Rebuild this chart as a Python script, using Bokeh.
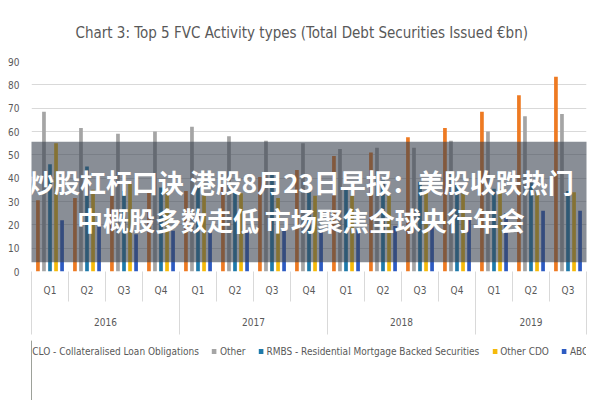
from bokeh.plotting import figure
from bokeh.layouts import column
from bokeh.models import (Range1d, LinearAxis, FixedTicker, Legend, LegendItem,
                          ColumnDataSource, BoxAnnotation, Label)
from bokeh.transform import dodge
from bokeh.embed import file_html
from bokeh.resources import INLINE

# ---------------- data ----------------
years = ["2016", "2017", "2018", "2019"]
quarters_per_year = [4, 4, 4, 3]
quarters = ["Q1", "Q2", "Q3", "Q4",
            "Q1", "Q2", "Q3", "Q4",
            "Q1", "Q2", "Q3", "Q4",
            "Q1", "Q2", "Q3"]

clo = [30.5, 31.5, 32.5, 34, 34.5, 37, 40.5, 43.5, 49.5, 51, 57.5, 61.5, 68.5, 75.5, 83.5]
other = [68.5, 61.5, 59, 60, 62, 58, 56, 55, 52.5, 53, 53, 56, 60, 66.5, 67.5]
rmbs = [46, 45, 34.5, 36, 36.5, 34.5, 42, 34.5, 36, 39, 38.5, 37.5, 35.5, 38, 34.5]
other_cdo = [55, 35, 37.5, 34.5, 33.5, 33.5, 31.5, 32.5, 32.5, 32.5, 34.5, 34, 35.5, 34.5, 34]
abcp = [22, 19.5, 16, 17.5, 16.5, 17.5, 17.5, 18, 18, 19.5, 19, 23, 25, 26, 26]

series_names = ["CLO - Collateralised Loan Obligations", "Other",
                "RMBS - Residential Mortgage Backed Securities", "Other CDO", "ABCP"]
series_values = [clo, other, rmbs, other_cdo, abcp]
colors = ["#EE7A22", "#A5A5A5", "#1F7AAA", "#F5BA0A", "#2D5BC2"]

title_text = "Chart 3: Top 5 FVC Activity types (Total Debt Securities Issued \u20acbn)"
banner_lines = ["炒股杠杆口诀 港股8月23日早报：美股收跌热门",
                "中概股多数走低 市场聚焦全球央行年会"]

# ---------------- chart ----------------
FONT = "'Liberation Sans Narrow', 'DejaVu Sans Condensed', 'Open Sans', sans-serif"
GREY = "#595959"
LIGHT = "#D9D9D9"

n = len(quarters)
xc = [i + 0.5 for i in range(n)]
data = {"x": xc}
keys = ["s%d" % i for i in range(len(series_values))]
for k, v in zip(keys, series_values):
    data[k] = v
source = ColumnDataSource(data)

p = figure(width=600, height=340, x_range=Range1d(0, n), y_range=Range1d(0, 90),
           output_backend="svg", toolbar_location=None, x_axis_location=None,
           min_border_left=31, min_border_right=14, min_border_top=61,
           min_border_bottom=69)
p.outline_line_color = None
p.background_fill_color = "white"
p.border_fill_color = "white"

# title
p.title.text = title_text
p.title.align = "left"
p.title.offset = 44
p.title.text_font = FONT
p.title.text_font_size = "15px"
p.title.text_font_style = "normal"
p.title.text_color = GREY
p.title.standoff = 39

# bars
step = 0.163
bw = 0.1
renderers = []
for j, (k, c) in enumerate(zip(keys, colors)):
    off = (j - 2) * step
    r = p.vbar(x=dodge("x", off, range=p.x_range), top=k, width=bw, bottom=0,
               source=source, fill_color=c, line_color=None)
    renderers.append(r)

# y axis and grid
yt = FixedTicker(ticks=list(range(0, 100, 10)))
p.yaxis.ticker = yt
p.yaxis.axis_line_color = None
p.yaxis.major_tick_line_color = None
p.yaxis.minor_tick_line_color = None
p.yaxis.major_label_text_font = FONT
p.yaxis.major_label_text_font_size = "10px"
p.yaxis.major_label_text_color = GREY
p.yaxis.major_label_standoff = 6
p.ygrid.ticker = yt
p.ygrid.grid_line_color = LIGHT
p.xgrid.grid_line_color = None

# quarter axis
q_over = {x: q for x, q in zip(xc, quarters)}
qax = LinearAxis(ticker=FixedTicker(ticks=xc, minor_ticks=list(range(0, n + 1))),
                 major_label_overrides=q_over,
                 axis_line_color=None, major_tick_line_color=None,
                 major_tick_in=0, major_tick_out=0,
                 minor_tick_line_color=LIGHT, minor_tick_in=0, minor_tick_out=30,
                 major_label_standoff=-17, major_label_text_font=FONT,
                 major_label_text_font_size="10px", major_label_text_color=GREY)
p.add_layout(qax, "below")

# year axis
ycent, ybounds = [], [0]
s = 0
for k in quarters_per_year:
    c = s + k / 2
    ycent.append(int(c) if c == int(c) else c)
    s += k
    ybounds.append(s)
y_over = {c: y for c, y in zip(ycent, years)}
yax = LinearAxis(ticker=FixedTicker(ticks=ycent, minor_ticks=ybounds),
                 major_label_overrides=y_over,
                 axis_line_color=None, major_tick_line_color=None,
                 major_tick_in=0, major_tick_out=0,
                 minor_tick_line_color=LIGHT, minor_tick_in=26, minor_tick_out=36,
                 major_label_standoff=-17, major_label_text_font=FONT,
                 major_label_text_font_size="10px", major_label_text_color=GREY)
p.add_layout(yax, "below")

# banner overlay across the chart
band = BoxAnnotation(left=-0.84, right=15.4, top=55.6, bottom=4.0,
                     fill_color="#3A4350", fill_alpha=0.6, line_color=None)
p.add_layout(band)
for txt, yy in zip(banner_lines, [38.4, 22.2]):
    lab = Label(x=7.28, y=yy, text=txt,
                text_align="center", text_baseline="middle",
                text_font="Noto Sans CJK SC", text_font_style="bold",
                text_font_size="26px", text_color="white")
    p.add_layout(lab)

# legend strip under the chart (swatch renderers sit outside the visible range)
pl = figure(width=600, height=60, x_range=Range1d(0, 1), y_range=Range1d(0, 1),
            output_backend="svg", toolbar_location=None,
            x_axis_location=None, y_axis_location=None,
            min_border=0, min_border_left=0, min_border_right=0,
            min_border_top=0, min_border_bottom=0)
pl.outline_line_color = None
pl.xgrid.grid_line_color = None
pl.ygrid.grid_line_color = None
leg_renderers = [pl.vbar(x=[-5], top=[1], bottom=[0], width=0.1,
                         fill_color=c, line_color=None) for c in colors]
items = [LegendItem(label=nm, renderers=[r]) for nm, r in zip(series_names, leg_renderers)]
legend = Legend(items=items, orientation="horizontal", location="top_center",
                label_text_font=FONT, label_text_font_size="10px",
                label_text_color=GREY, glyph_width=6, glyph_height=6,
                label_height=12, label_standoff=3, spacing=12,
                border_line_color=None, background_fill_alpha=0,
                padding=4, margin=5)
pl.add_layout(legend)

layout = column(p, pl, spacing=0)
open("out.html", "w").write(file_html(layout, INLINE))
